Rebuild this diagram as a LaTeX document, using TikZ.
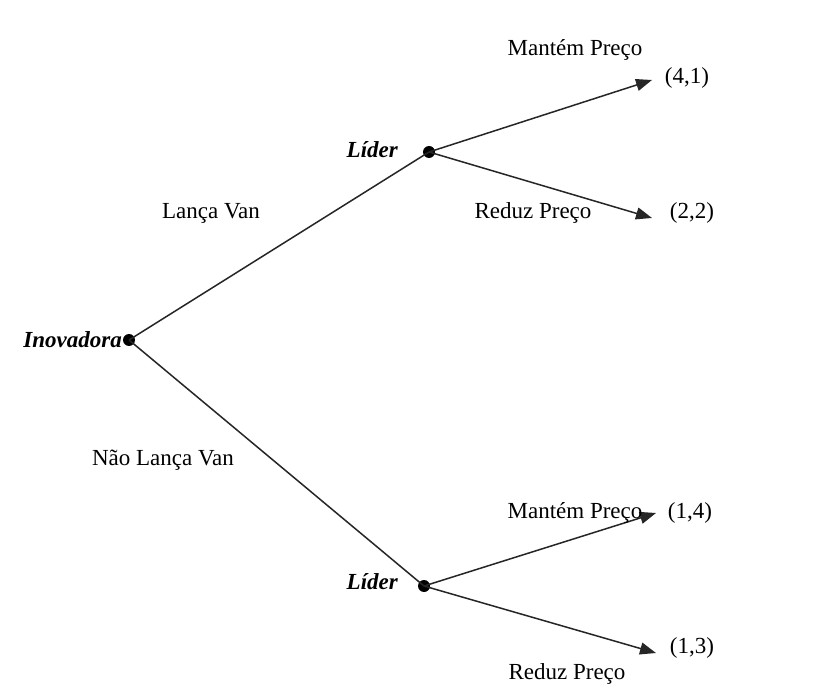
\documentclass[tikz,border=0pt]{standalone}
\usepackage{fontspec}
\setmainfont{Liberation Serif}
\usetikzlibrary{arrows.meta}
\begin{document}
\begin{tikzpicture}[x=1pt,y=-1pt,
  lbl/.style={font=\fontsize{23}{27}\selectfont, inner sep=0pt},
  player/.style={font=\fontsize{23}{27}\selectfont\bfseries\itshape, inner sep=0pt},
  dot/.style={circle, fill=black, minimum size=12pt, inner sep=0pt},
  edge/.style={draw=black!85, line width=1.5pt},
  arr/.style={edge, -{Triangle[length=16pt,width=12pt]}}]
\useasboundingbox (0,0) rectangle (827,692);
\fill[white] (0,0) rectangle (827,692);
% decision nodes
\node[dot] (inov) at (129,340) {};
\node[dot] (lt) at (429,152) {};
\node[dot] (lb) at (424,586) {};
% player names
\node[player, anchor=east] (tinov) at (122,340) {Inovadora};
\node[player, anchor=east] (tlt) at (398,150) {Líder};
\node[player, anchor=east] (tlb) at (398,582) {Líder};
% terminal coordinates
\coordinate (e1) at (652,80);
\coordinate (e2) at (652,218);
\coordinate (e3) at (656,513);
\coordinate (e4) at (656,653);
% edges
\draw[edge] (inov.center) -- (lt.center);
\draw[edge] (inov.center) -- (lb.center);
\draw[arr] (lt.center) -- (e1);
\draw[arr] (lt.center) -- (e2);
\draw[arr] (lb.center) -- (e3);
\draw[arr] (lb.center) -- (e4);
% action labels
\node[lbl] (a1) at (211,213) {Lança Van};
\node[lbl] (a2) at (163,460) {Não Lança Van};
\node[lbl] (a3) at (575,50) {Mantém Preço};
\node[lbl] (a4) at (533,213) {Reduz Preço};
\node[lbl] (a5) at (575,513) {Mantém Preço};
\node[lbl] (a6) at (567,674) {Reduz Preço};
% payoffs
\node[lbl] (p1) at (687,78) {(4,1)};
\node[lbl] (p2) at (692,213) {(2,2)};
\node[lbl] (p3) at (690,513) {(1,4)};
\node[lbl] (p4) at (692,648) {(1,3)};
\end{tikzpicture}
\end{document}
